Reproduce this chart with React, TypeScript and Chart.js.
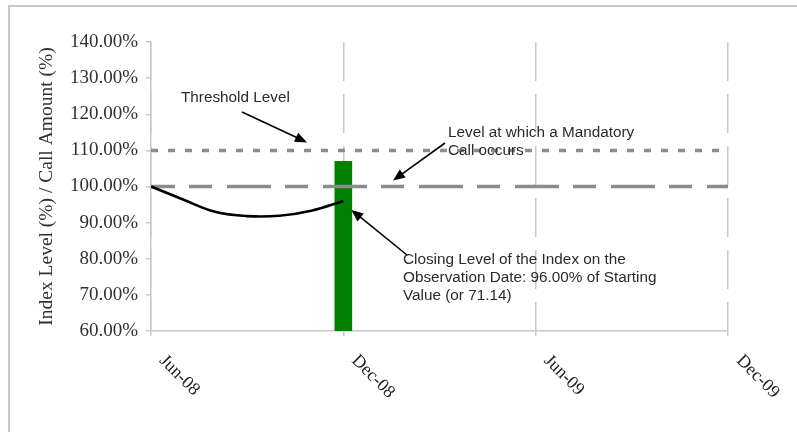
import { useEffect, useRef } from 'react';
import { Chart, registerables } from 'chart.js';

Chart.register(...registerables);

// ---- data ----
const xTickLabels = ['Jun-08', 'Dec-08', 'Jun-09', 'Dec-09'];
const xRange = [0, 18]; // months from Jun-08
const indexMonths = [0, 1, 2, 3, 4, 5, 6];
const indexLevel = [100, 96.4, 93.0, 91.8, 91.9, 93.3, 96.0];
const observationMonth = [6];
const callAmount: [number, number][] = [[60, 107]];
const thresholdLevel = 110;
const mandatoryCallLevel = 100;

const SERIF = '"Liberation Serif", "Times New Roman", serif';
const SANS = '"Liberation Sans", Arial, sans-serif';

function arrow(ctx: CanvasRenderingContext2D, x1: number, y1: number, x2: number, y2: number) {
  const ang = Math.atan2(y2 - y1, x2 - x1);
  const hl = 12;
  const hw = 5;
  ctx.save();
  ctx.strokeStyle = '#000';
  ctx.fillStyle = '#000';
  ctx.lineWidth = 1.6;
  ctx.beginPath();
  ctx.moveTo(x1, y1);
  ctx.lineTo(x2 - Math.cos(ang) * hl * 0.8, y2 - Math.sin(ang) * hl * 0.8);
  ctx.stroke();
  ctx.beginPath();
  ctx.moveTo(x2, y2);
  ctx.lineTo(x2 - Math.cos(ang) * hl - Math.sin(ang) * hw, y2 - Math.sin(ang) * hl + Math.cos(ang) * hw);
  ctx.lineTo(x2 - Math.cos(ang) * hl + Math.sin(ang) * hw, y2 - Math.sin(ang) * hl - Math.cos(ang) * hw);
  ctx.closePath();
  ctx.fill();
  ctx.restore();
}

export default function App() {
  const ref = useRef<HTMLCanvasElement>(null);

  useEffect(() => {
    const canvas = ref.current!;
    const decor = {
      id: 'decor',
      beforeDraw(chart: any) {
        const ctx = chart.ctx as CanvasRenderingContext2D;
        ctx.save();
        ctx.fillStyle = '#ffffff';
        ctx.fillRect(0, 0, chart.width, chart.height);
        ctx.fillStyle = '#c8c8c8';
        ctx.fillRect(8, 5, chart.width - 8, 2);
        ctx.fillRect(8, 5, 2, chart.height - 5);
        ctx.restore();
      },
      afterDraw(chart: any) {
        const ctx = chart.ctx as CanvasRenderingContext2D;
        const xs = chart.scales.x;
        const ys = chart.scales.y;
        const bottom = chart.chartArea.bottom;
        // rotated x tick labels
        ctx.save();
        ctx.font = `18px ${SERIF}`;
        ctx.fillStyle = '#222';
        ctx.textAlign = 'left';
        ctx.textBaseline = 'middle';
        xTickLabels.forEach((lab, i) => {
          const px = xs.getPixelForValue(xRange[0] + i * 6);
          ctx.save();
          ctx.translate(px + 11, bottom + 27);
          ctx.rotate(Math.PI / 4);
          ctx.fillText(lab, 0, 0);
          ctx.restore();
        });
        ctx.restore();

        // annotations
        ctx.save();
        ctx.font = `15.3px ${SANS}`;
        ctx.fillStyle = '#2a2a2a';
        ctx.textAlign = 'left';
        ctx.textBaseline = 'middle';
        ctx.fillText('Threshold Level', 181, 98);
        ctx.fillText('Level at which a Mandatory', 448, 133);
        ctx.fillText('Call occurs', 448, 151);
        ctx.fillText('Closing Level of the Index on the', 403, 260);
        ctx.fillText('Observation Date: 96.00% of Starting', 403, 278);
        ctx.fillText('Value (or 71.14)', 403, 296);
        ctx.restore();

        const yT = ys.getPixelForValue(thresholdLevel);
        const yM = ys.getPixelForValue(mandatoryCallLevel);
        const endX = xs.getPixelForValue(indexMonths[indexMonths.length - 1]);
        const endY = ys.getPixelForValue(indexLevel[indexLevel.length - 1]);
        arrow(ctx, 242, 112, 307, yT - 8);
        arrow(ctx, 445, 143, 393, yM - 6);
        arrow(ctx, 407, 255, endX + 8, endY + 9);
      },
    };

    const chart = new Chart(canvas, {
      type: 'bar',
      data: {
        datasets: [
          {
            type: 'line',
            label: 'Index Level',
            data: indexMonths.map((m, i) => ({ x: m, y: indexLevel[i] })),
            borderColor: '#000000',
            borderWidth: 2.6,
            pointRadius: 0,
            tension: 0.4,
            order: 1,
          },
          {
            type: 'line',
            label: 'Threshold Level',
            data: xRange.map((x) => ({ x, y: thresholdLevel })),
            borderColor: '#8c8c8c',
            borderWidth: 3.5,
            borderDash: [7, 10],
            pointRadius: 0,
            order: 2,
          },
          {
            type: 'line',
            label: 'Mandatory Call Level',
            data: xRange.map((x) => ({ x, y: mandatoryCallLevel })),
            borderColor: '#8c8c8c',
            borderWidth: 3.5,
            borderDash: [44, 14, 23, 15],
            borderDashOffset: 20,
            pointRadius: 0,
            order: 3,
          },
          {
            type: 'bar',
            label: 'Call Amount',
            data: observationMonth.map((m, i) => ({ x: m, y: callAmount[i] })),
            backgroundColor: '#008000',
            borderWidth: 0,
            barThickness: 17,
            order: 10,
          },
        ] as any,
      },
      options: {
        responsive: false,
        animation: false,
        layout: { padding: { left: 0, top: 42, right: 69, bottom: 0 } },
        plugins: { legend: { display: false }, tooltip: { enabled: false } },
        scales: {
          x: {
            type: 'linear',
            min: xRange[0],
            max: xRange[1],
            offset: false,
            ticks: { stepSize: 6, display: false },
            grid: {
              offset: false,
              color: '#c8c8c8',
              lineWidth: 1.5,
              tickLength: 5,
              tickBorderDash: [],
            },
            border: { color: '#c8c8c8', width: 1.5, dash: [39, 13] },
            afterFit(s: any) {
              s.height = 101;
            },
          },
          y: {
            min: 60,
            max: 140,
            ticks: {
              stepSize: 10,
              callback: (v: any) => Number(v).toFixed(2) + '%',
              font: { family: SERIF, size: 19 },
              color: '#303030',
              padding: 8,
            },
            grid: { drawOnChartArea: false, tickLength: 5, color: '#c8c8c8', lineWidth: 1.5 },
            border: { color: '#c8c8c8', width: 1.5 },
            title: {
              display: true,
              text: 'Index Level (%) / Call Amount (%)',
              font: { family: SERIF, size: 19.5 },
              color: '#303030',
              padding: { top: 35, bottom: 0 },
            },
            afterFit(s: any) {
              s.width = 151;
            },
          },
        },
      } as any,
      plugins: [decor],
    });
    return () => chart.destroy();
  }, []);

  return (
    <div style={{ position: 'fixed', left: 0, top: 0, width: 797, height: 432, background: '#fff' }}>
      <canvas ref={ref} width={797} height={432} style={{ display: 'block' }} />
    </div>
  );
}
